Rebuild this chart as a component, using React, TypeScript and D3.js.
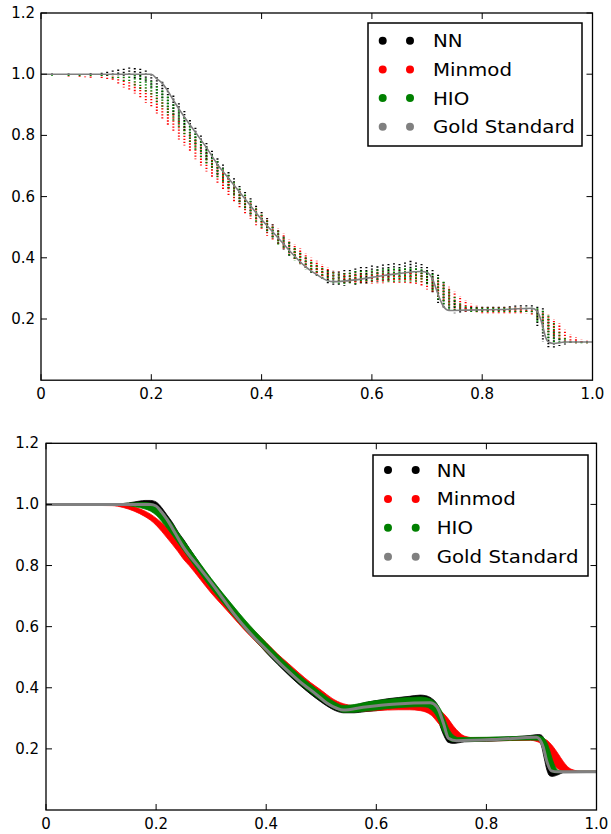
import React from 'react';
import * as d3 from 'd3';

type Band = [number, number, number];
type Pt = [number, number];

const xTicks = [0, 0.2, 0.4, 0.6, 0.8, 1.0];
const xTickLabels = ['0', '0.2', '0.4', '0.6', '0.8', '1.0'];
const yTicks = [0.2, 0.4, 0.6, 0.8, 1.0, 1.2];
const yTickLabels = ['0.2', '0.4', '0.6', '0.8', '1.0', '1.2'];
const legendLabels = ['NN', 'Minmod', 'HIO', 'Gold Standard'];
const seriesColors = ['#000000', '#ff0000', '#008000', '#808080'];

// ---------- Top panel (columns: x, low, high) ----------
const topNN: Band[] = [
  [0.02, 0.998, 1.002], [0.05, 0.998, 1.002], [0.09, 0.998, 1.003],
  [0.11, 0.997, 1.005], [0.12, 0.997, 1.008], [0.13, 0.998, 1.012], [0.14, 0.998, 1.015],
  [0.15, 0.998, 1.018], [0.16, 0.995, 1.022], [0.17, 0.99, 1.02], [0.18, 0.985, 1.018],
  [0.19, 0.975, 1.012], [0.2, 0.96, 1.0], [0.21, 0.94, 0.99], [0.22, 0.92, 0.975],
  [0.23, 0.895, 0.955], [0.24, 0.87, 0.93], [0.25, 0.845, 0.905], [0.26, 0.82, 0.88],
  [0.27, 0.795, 0.85], [0.28, 0.77, 0.825], [0.29, 0.745, 0.8], [0.3, 0.72, 0.775],
  [0.31, 0.695, 0.75], [0.32, 0.675, 0.725], [0.33, 0.65, 0.705], [0.34, 0.63, 0.68],
  [0.35, 0.605, 0.66], [0.36, 0.585, 0.635], [0.37, 0.565, 0.615], [0.38, 0.545, 0.595],
  [0.39, 0.525, 0.57], [0.4, 0.505, 0.55], [0.41, 0.485, 0.53], [0.42, 0.465, 0.51],
  [0.43, 0.445, 0.49], [0.44, 0.43, 0.47], [0.45, 0.41, 0.45], [0.46, 0.395, 0.43],
  [0.47, 0.38, 0.415], [0.48, 0.365, 0.4], [0.49, 0.35, 0.385], [0.5, 0.34, 0.375],
  [0.51, 0.33, 0.365], [0.52, 0.32, 0.36], [0.53, 0.315, 0.355], [0.54, 0.312, 0.355],
  [0.55, 0.312, 0.36], [0.56, 0.315, 0.36], [0.57, 0.315, 0.365], [0.58, 0.318, 0.37],
  [0.59, 0.32, 0.37], [0.6, 0.322, 0.375], [0.61, 0.325, 0.372], [0.62, 0.325, 0.378],
  [0.63, 0.33, 0.38], [0.64, 0.33, 0.382], [0.65, 0.333, 0.38], [0.66, 0.335, 0.385],
  [0.67, 0.335, 0.39], [0.68, 0.34, 0.385], [0.69, 0.335, 0.38], [0.7, 0.32, 0.37],
  [0.71, 0.29, 0.36], [0.72, 0.255, 0.345], [0.73, 0.235, 0.32], [0.74, 0.225, 0.29],
  [0.75, 0.222, 0.26], [0.76, 0.222, 0.245], [0.77, 0.222, 0.238], [0.78, 0.225, 0.24],
  [0.79, 0.225, 0.24], [0.8, 0.225, 0.24], [0.81, 0.225, 0.24], [0.82, 0.225, 0.24],
  [0.83, 0.225, 0.24], [0.84, 0.225, 0.24], [0.85, 0.225, 0.242], [0.86, 0.226, 0.244],
  [0.87, 0.226, 0.245], [0.88, 0.226, 0.245], [0.89, 0.225, 0.245], [0.9, 0.18, 0.24],
  [0.91, 0.13, 0.235], [0.92, 0.11, 0.2], [0.93, 0.11, 0.16], [0.94, 0.115, 0.135],
  [0.95, 0.12, 0.13], [0.96, 0.122, 0.127], [0.97, 0.122, 0.127], [0.98, 0.122, 0.127],
  [0.99, 0.122, 0.127],
];

const topMinmod: Band[] = [
  [0.05, 0.995, 1.0], [0.07, 0.994, 1.0], [0.08, 0.993, 0.999], [0.09, 0.992, 0.999],
  [0.11, 0.988, 0.998], [0.12, 0.985, 0.995], [0.13, 0.98, 0.993], [0.14, 0.97, 0.99],
  [0.15, 0.96, 0.985], [0.16, 0.95, 0.98], [0.17, 0.94, 0.975], [0.18, 0.925, 0.965],
  [0.19, 0.91, 0.955], [0.2, 0.895, 0.945], [0.21, 0.875, 0.93], [0.22, 0.855, 0.915],
  [0.23, 0.835, 0.895], [0.24, 0.815, 0.875], [0.25, 0.79, 0.855], [0.26, 0.77, 0.835],
  [0.27, 0.75, 0.81], [0.28, 0.725, 0.79], [0.29, 0.705, 0.77], [0.3, 0.685, 0.75],
  [0.31, 0.665, 0.725], [0.32, 0.645, 0.705], [0.33, 0.625, 0.685], [0.34, 0.605, 0.665],
  [0.35, 0.585, 0.645], [0.36, 0.565, 0.625], [0.37, 0.545, 0.605], [0.38, 0.53, 0.585],
  [0.39, 0.51, 0.565], [0.4, 0.495, 0.545], [0.41, 0.475, 0.53], [0.42, 0.46, 0.51],
  [0.43, 0.445, 0.495], [0.44, 0.43, 0.48], [0.45, 0.415, 0.46], [0.46, 0.4, 0.445],
  [0.47, 0.385, 0.43], [0.48, 0.37, 0.415], [0.49, 0.36, 0.4], [0.5, 0.35, 0.39],
  [0.51, 0.34, 0.38], [0.52, 0.335, 0.37], [0.53, 0.33, 0.36], [0.54, 0.325, 0.355],
  [0.55, 0.322, 0.35], [0.56, 0.32, 0.35], [0.57, 0.32, 0.35], [0.58, 0.318, 0.35],
  [0.59, 0.318, 0.352], [0.6, 0.318, 0.352], [0.61, 0.32, 0.355], [0.62, 0.32, 0.355],
  [0.63, 0.322, 0.355], [0.64, 0.322, 0.358], [0.65, 0.322, 0.358], [0.66, 0.322, 0.358],
  [0.67, 0.32, 0.357], [0.68, 0.315, 0.355], [0.69, 0.31, 0.35], [0.7, 0.3, 0.345],
  [0.71, 0.29, 0.34], [0.72, 0.275, 0.33], [0.73, 0.26, 0.32], [0.74, 0.245, 0.305],
  [0.75, 0.235, 0.29], [0.76, 0.23, 0.275], [0.77, 0.228, 0.262], [0.78, 0.226, 0.25],
  [0.79, 0.225, 0.243], [0.8, 0.222, 0.238], [0.81, 0.222, 0.238], [0.82, 0.222, 0.238],
  [0.83, 0.222, 0.238], [0.84, 0.222, 0.238], [0.85, 0.222, 0.238], [0.86, 0.222, 0.238],
  [0.87, 0.222, 0.238], [0.88, 0.222, 0.236], [0.89, 0.215, 0.235], [0.9, 0.2, 0.232],
  [0.91, 0.18, 0.225], [0.92, 0.16, 0.215], [0.93, 0.145, 0.2], [0.94, 0.135, 0.185],
  [0.95, 0.128, 0.165], [0.96, 0.125, 0.15], [0.97, 0.124, 0.14], [0.98, 0.124, 0.135],
  [0.99, 0.124, 0.13],
];

const topHIO: Band[] = [
  [0.02, 0.998, 1.002], [0.05, 0.997, 1.002], [0.07, 0.997, 1.002], [0.09, 0.996, 1.002],
  [0.11, 0.995, 1.002], [0.12, 0.993, 1.003], [0.13, 0.99, 1.004], [0.14, 0.985, 1.005],
  [0.15, 0.98, 1.005], [0.16, 0.975, 1.005], [0.17, 0.965, 1.0], [0.18, 0.955, 0.998],
  [0.19, 0.945, 0.99], [0.2, 0.93, 0.98], [0.21, 0.91, 0.965], [0.22, 0.89, 0.95],
  [0.23, 0.87, 0.93], [0.24, 0.85, 0.905], [0.25, 0.825, 0.885], [0.26, 0.805, 0.86],
  [0.27, 0.78, 0.835], [0.28, 0.755, 0.81], [0.29, 0.73, 0.785], [0.3, 0.71, 0.765],
  [0.31, 0.69, 0.74], [0.32, 0.665, 0.72], [0.33, 0.645, 0.695], [0.34, 0.625, 0.675],
  [0.35, 0.6, 0.65], [0.36, 0.58, 0.63], [0.37, 0.56, 0.61], [0.38, 0.54, 0.59],
  [0.39, 0.52, 0.565], [0.4, 0.5, 0.545], [0.41, 0.485, 0.525], [0.42, 0.465, 0.505],
  [0.43, 0.445, 0.49], [0.44, 0.43, 0.47], [0.45, 0.41, 0.455], [0.46, 0.395, 0.435],
  [0.47, 0.38, 0.42], [0.48, 0.365, 0.405], [0.49, 0.355, 0.39], [0.5, 0.345, 0.38],
  [0.51, 0.335, 0.37], [0.52, 0.325, 0.36], [0.53, 0.32, 0.355], [0.54, 0.318, 0.352],
  [0.55, 0.316, 0.352], [0.56, 0.316, 0.355], [0.57, 0.318, 0.36], [0.58, 0.32, 0.36],
  [0.59, 0.32, 0.36], [0.6, 0.322, 0.362], [0.61, 0.325, 0.365], [0.62, 0.325, 0.366],
  [0.63, 0.325, 0.368], [0.64, 0.325, 0.368], [0.65, 0.326, 0.368], [0.66, 0.326, 0.368],
  [0.67, 0.326, 0.368], [0.68, 0.325, 0.368], [0.69, 0.325, 0.366], [0.7, 0.315, 0.36],
  [0.71, 0.295, 0.35], [0.72, 0.265, 0.34], [0.73, 0.245, 0.325], [0.74, 0.232, 0.3],
  [0.75, 0.228, 0.275], [0.76, 0.226, 0.255], [0.77, 0.226, 0.245], [0.78, 0.226, 0.24],
  [0.79, 0.226, 0.24], [0.8, 0.226, 0.24], [0.81, 0.226, 0.24], [0.82, 0.226, 0.24],
  [0.83, 0.226, 0.24], [0.84, 0.226, 0.24], [0.85, 0.226, 0.24], [0.86, 0.226, 0.24],
  [0.87, 0.226, 0.24], [0.88, 0.226, 0.24], [0.89, 0.22, 0.24], [0.9, 0.19, 0.238],
  [0.91, 0.16, 0.23], [0.92, 0.135, 0.215], [0.93, 0.125, 0.19], [0.94, 0.123, 0.16],
  [0.95, 0.123, 0.14], [0.96, 0.123, 0.13], [0.97, 0.124, 0.127], [0.98, 0.124, 0.127],
  [0.99, 0.124, 0.127],
];

const topGold: Pt[] = [
  [0, 1.0], [0.2, 1.0], [0.21, 0.985], [0.22, 0.97], [0.23, 0.945], [0.24, 0.915],
  [0.26, 0.86], [0.28, 0.81], [0.3, 0.76], [0.32, 0.705], [0.34, 0.66], [0.36, 0.615],
  [0.38, 0.57], [0.4, 0.525], [0.42, 0.485], [0.44, 0.445], [0.46, 0.405], [0.48, 0.37],
  [0.5, 0.345], [0.52, 0.325], [0.53, 0.322], [0.55, 0.324], [0.6, 0.336], [0.65, 0.349],
  [0.69, 0.355], [0.7, 0.352], [0.71, 0.33], [0.72, 0.28], [0.73, 0.24], [0.74, 0.228],
  [0.77, 0.229], [0.85, 0.232], [0.89, 0.235], [0.9, 0.225], [0.91, 0.175], [0.915, 0.14],
  [0.92, 0.125], [0.93, 0.12], [0.95, 0.125], [1.0, 0.125],
];

// ---------- Bottom panel (bands: x, low, high) ----------
const botNN: Band[] = [
  [0, 0.998, 1.002], [0.1, 0.998, 1.002], [0.14, 0.998, 1.003], [0.16, 0.998, 1.008],
  [0.17, 0.998, 1.011], [0.18, 0.997, 1.013], [0.19, 0.993, 1.013], [0.2, 0.985, 1.008],
  [0.21, 0.965, 0.99], [0.22, 0.94, 0.965], [0.23, 0.915, 0.94], [0.24, 0.885, 0.91],
  [0.25, 0.86, 0.885], [0.26, 0.833, 0.858], [0.28, 0.78, 0.805], [0.3, 0.73, 0.755],
  [0.32, 0.685, 0.71], [0.34, 0.64, 0.665], [0.36, 0.595, 0.62], [0.38, 0.555, 0.58],
  [0.4, 0.515, 0.54], [0.42, 0.478, 0.502], [0.44, 0.443, 0.467], [0.46, 0.41, 0.435],
  [0.48, 0.38, 0.405], [0.5, 0.353, 0.378], [0.52, 0.33, 0.352], [0.53, 0.322, 0.342],
  [0.54, 0.318, 0.338], [0.56, 0.318, 0.343], [0.58, 0.322, 0.352], [0.6, 0.325, 0.358],
  [0.62, 0.33, 0.364], [0.64, 0.335, 0.368], [0.66, 0.338, 0.372], [0.68, 0.34, 0.376],
  [0.69, 0.34, 0.374], [0.7, 0.33, 0.366], [0.71, 0.305, 0.348], [0.715, 0.28, 0.33],
  [0.72, 0.255, 0.3], [0.725, 0.235, 0.27], [0.73, 0.222, 0.25], [0.74, 0.218, 0.235],
  [0.75, 0.22, 0.233], [0.76, 0.223, 0.235], [0.8, 0.225, 0.237], [0.85, 0.228, 0.24],
  [0.88, 0.23, 0.244], [0.895, 0.228, 0.247], [0.9, 0.21, 0.245], [0.905, 0.17, 0.23],
  [0.91, 0.13, 0.19], [0.915, 0.112, 0.15], [0.92, 0.11, 0.13], [0.93, 0.115, 0.128],
  [0.94, 0.122, 0.127], [1.0, 0.123, 0.127],
];

const botMinmod: Band[] = [
  [0, 0.998, 1.001], [0.12, 0.996, 1.0], [0.14, 0.99, 0.998], [0.16, 0.978, 0.992],
  [0.18, 0.96, 0.978], [0.19, 0.948, 0.968], [0.2, 0.932, 0.955], [0.21, 0.912, 0.94],
  [0.22, 0.89, 0.922], [0.23, 0.868, 0.9], [0.24, 0.845, 0.875], [0.25, 0.82, 0.85],
  [0.26, 0.8, 0.83], [0.28, 0.755, 0.785], [0.3, 0.71, 0.74], [0.32, 0.67, 0.7],
  [0.34, 0.63, 0.66], [0.36, 0.59, 0.62], [0.38, 0.553, 0.583], [0.4, 0.518, 0.548],
  [0.42, 0.485, 0.512], [0.44, 0.452, 0.48], [0.46, 0.42, 0.448], [0.48, 0.393, 0.418],
  [0.5, 0.368, 0.392], [0.52, 0.345, 0.365], [0.53, 0.337, 0.355], [0.54, 0.33, 0.348],
  [0.56, 0.325, 0.342], [0.58, 0.324, 0.344], [0.6, 0.325, 0.347], [0.62, 0.327, 0.35],
  [0.64, 0.328, 0.352], [0.66, 0.328, 0.353], [0.68, 0.325, 0.352], [0.7, 0.31, 0.345],
  [0.71, 0.29, 0.335], [0.72, 0.268, 0.32], [0.73, 0.248, 0.3], [0.74, 0.235, 0.275],
  [0.75, 0.228, 0.255], [0.76, 0.226, 0.242], [0.78, 0.226, 0.236], [0.88, 0.228, 0.238],
  [0.89, 0.225, 0.237], [0.9, 0.215, 0.235], [0.91, 0.185, 0.228], [0.92, 0.155, 0.21],
  [0.93, 0.135, 0.185], [0.94, 0.127, 0.158], [0.95, 0.124, 0.138], [0.96, 0.123, 0.13],
  [0.97, 0.123, 0.127], [1.0, 0.123, 0.127],
];

const botHIO: Band[] = [
  [0, 0.998, 1.002], [0.14, 0.997, 1.003], [0.16, 0.993, 1.005], [0.18, 0.985, 1.006],
  [0.19, 0.978, 1.004], [0.2, 0.965, 0.995], [0.21, 0.945, 0.98], [0.22, 0.922, 0.958],
  [0.23, 0.898, 0.935], [0.24, 0.873, 0.908], [0.25, 0.848, 0.882], [0.26, 0.823, 0.857],
  [0.28, 0.773, 0.807], [0.3, 0.725, 0.758], [0.32, 0.68, 0.712], [0.34, 0.636, 0.668],
  [0.36, 0.594, 0.625], [0.38, 0.555, 0.585], [0.4, 0.518, 0.547], [0.42, 0.482, 0.51],
  [0.44, 0.448, 0.475], [0.46, 0.415, 0.442], [0.48, 0.385, 0.412], [0.5, 0.358, 0.384],
  [0.52, 0.335, 0.358], [0.53, 0.327, 0.348], [0.54, 0.32, 0.342], [0.56, 0.32, 0.345],
  [0.58, 0.324, 0.352], [0.6, 0.327, 0.358], [0.62, 0.332, 0.362], [0.64, 0.335, 0.366],
  [0.66, 0.337, 0.368], [0.68, 0.338, 0.37], [0.69, 0.337, 0.368], [0.7, 0.328, 0.362],
  [0.71, 0.305, 0.348], [0.715, 0.285, 0.335], [0.72, 0.262, 0.318], [0.725, 0.245, 0.295],
  [0.73, 0.232, 0.272], [0.74, 0.224, 0.245], [0.75, 0.224, 0.237], [0.8, 0.226, 0.238],
  [0.88, 0.229, 0.242], [0.895, 0.228, 0.243], [0.9, 0.215, 0.24], [0.905, 0.19, 0.235],
  [0.91, 0.16, 0.22], [0.915, 0.135, 0.195], [0.92, 0.124, 0.165], [0.925, 0.122, 0.142],
  [0.93, 0.122, 0.13], [0.94, 0.123, 0.127], [1.0, 0.123, 0.127],
];

const botGold: Pt[] = [
  [0, 1.0], [0.19, 1.0], [0.2, 0.995], [0.21, 0.975], [0.22, 0.95], [0.235, 0.905],
  [0.249, 0.862], [0.28, 0.79], [0.31, 0.72], [0.34, 0.645], [0.371, 0.578], [0.4, 0.525],
  [0.431, 0.469], [0.46, 0.422], [0.492, 0.377], [0.51, 0.35], [0.528, 0.333], [0.54, 0.327],
  [0.576, 0.336], [0.637, 0.347], [0.698, 0.351], [0.71, 0.338], [0.722, 0.284],
  [0.731, 0.235], [0.746, 0.227], [0.819, 0.231], [0.891, 0.238], [0.903, 0.207],
  [0.909, 0.164], [0.918, 0.128], [0.93, 0.125], [1.0, 0.125],
];

type Frame = { left: number; right: number; top: number; bottom: number };
type LegendBox = { x: number; y: number; w: number; h: number; rowY: number; rowGap: number; dot1: number; dot2: number; textX: number };

function Panel(props: {
  frame: Frame;
  nn: Band[];
  mm: Band[];
  hio: Band[];
  gold: Pt[];
  mode: 'columns' | 'bands';
  goldWidth: number;
  legend: LegendBox;
  labelDx: number;
}) {
  const { frame, nn, mm, hio, gold, mode, goldWidth, legend, labelDx } = props;
  const sx = d3.scaleLinear().domain([0, 1]).range([frame.left, frame.right]);
  const sy = d3.scaleLinear().domain([0, 1.2]).range([frame.bottom, frame.top]);
  const series = [nn, mm, hio];
  const goldLine = d3.line<Pt>().x((d) => sx(d[0])).y((d) => sy(d[1])).curve(d3.curveMonotoneX);
  const area = d3.area<Band>().x((d) => sx(d[0])).y0((d) => sy(d[1])).y1((d) => sy(d[2])).curve(d3.curveMonotoneX);
  const tl = 6;
  const font = 'DejaVu Sans, sans-serif';
  return (
    <g>
      <defs>
        <clipPath id={`clip-${frame.top}`}>
          <rect x={frame.left} y={frame.top} width={frame.right - frame.left} height={frame.bottom - frame.top} />
        </clipPath>
      </defs>
      <g clipPath={`url(#clip-${frame.top})`}>
        {mode === 'columns'
          ? series.map((s, si) => (
              <g key={si}>
                {s.map((d, i) => (
                  <line
                    key={i}
                    x1={sx(d[0])}
                    x2={sx(d[0])}
                    y1={sy(d[2])}
                    y2={sy(d[1]) + 1}
                    stroke={seriesColors[si]}
                    strokeWidth={2}
                    strokeDasharray="1.3 1.7"
                    strokeDashoffset={si * 1}
                  />
                ))}
              </g>
            ))
          : series.map((s, si) => (
              <path key={si} d={area(s) || ''} fill={seriesColors[si]} stroke={seriesColors[si]} strokeWidth={0.8} />
            ))}
        <path d={goldLine(gold) || ''} fill="none" stroke={seriesColors[3]} strokeWidth={goldWidth} strokeLinejoin="round" />
      </g>
      <rect
        x={frame.left}
        y={frame.top}
        width={frame.right - frame.left}
        height={frame.bottom - frame.top}
        fill="none"
        stroke="#000"
        strokeWidth={1.3}
      />
      {xTicks.map((t, i) => (
        <g key={'x' + i}>
          <line x1={sx(t)} x2={sx(t)} y1={frame.bottom} y2={frame.bottom - tl} stroke="#000" strokeWidth={1} />
          <line x1={sx(t)} x2={sx(t)} y1={frame.top} y2={frame.top + tl} stroke="#000" strokeWidth={1} />
          <text x={sx(t)} y={frame.bottom + 19} textAnchor="middle" fontFamily={font} fontSize={15} fill="#000">
            {xTickLabels[i]}
          </text>
        </g>
      ))}
      {yTicks.map((t, i) => (
        <g key={'y' + i}>
          <line x1={frame.left} x2={frame.left + tl} y1={sy(t)} y2={sy(t)} stroke="#000" strokeWidth={1} />
          <line x1={frame.right} x2={frame.right - tl} y1={sy(t)} y2={sy(t)} stroke="#000" strokeWidth={1} />
          <text x={frame.left - labelDx} y={sy(t) + 5} textAnchor="end" fontFamily={font} fontSize={15} fill="#000">
            {yTickLabels[i]}
          </text>
        </g>
      ))}
      <g>
        <rect x={legend.x} y={legend.y} width={legend.w} height={legend.h} fill="#fff" stroke="#000" strokeWidth={1.5} />
        {legendLabels.map((lab, i) => {
          const cy = legend.rowY + i * legend.rowGap;
          return (
            <g key={lab}>
              <circle cx={legend.dot1} cy={cy} r={4} fill={seriesColors[i]} />
              <circle cx={legend.dot2} cy={cy} r={4} fill={seriesColors[i]} />
              <text
                transform={`translate(${legend.textX},${cy + 6.5}) scale(1.07,1)`}
                fontFamily={font}
                fontSize={18.5}
                fill="#000"
              >
                {lab}
              </text>
            </g>
          );
        })}
      </g>
    </g>
  );
}

export default function App() {
  return (
    <svg
      width={611}
      height={834}
      viewBox="0 0 611 834"
      style={{ position: 'absolute', left: 0, top: 0, background: '#fff' }}
    >
      <rect x={0} y={0} width={611} height={834} fill="#fff" />
      <Panel
        frame={{ left: 41, right: 592.5, top: 13, bottom: 380.2 }}
        nn={topNN}
        mm={topMinmod}
        hio={topHIO}
        gold={topGold}
        mode="columns"
        goldWidth={1.6}
        labelDx={6}
        legend={{ x: 368, y: 23, w: 214, h: 123, rowY: 40.7, rowGap: 28.7, dot1: 382.7, dot2: 410, textX: 433 }}
      />
      <Panel
        frame={{ left: 46, right: 596.5, top: 443.3, bottom: 810 }}
        nn={botNN}
        mm={botMinmod}
        hio={botHIO}
        gold={botGold}
        mode="bands"
        goldWidth={3}
        labelDx={7}
        legend={{ x: 373, y: 455, w: 215, h: 121, rowY: 470, rowGap: 28.9, dot1: 388, dot2: 415.7, textX: 436.7 }}
      />
    </svg>
  );
}
